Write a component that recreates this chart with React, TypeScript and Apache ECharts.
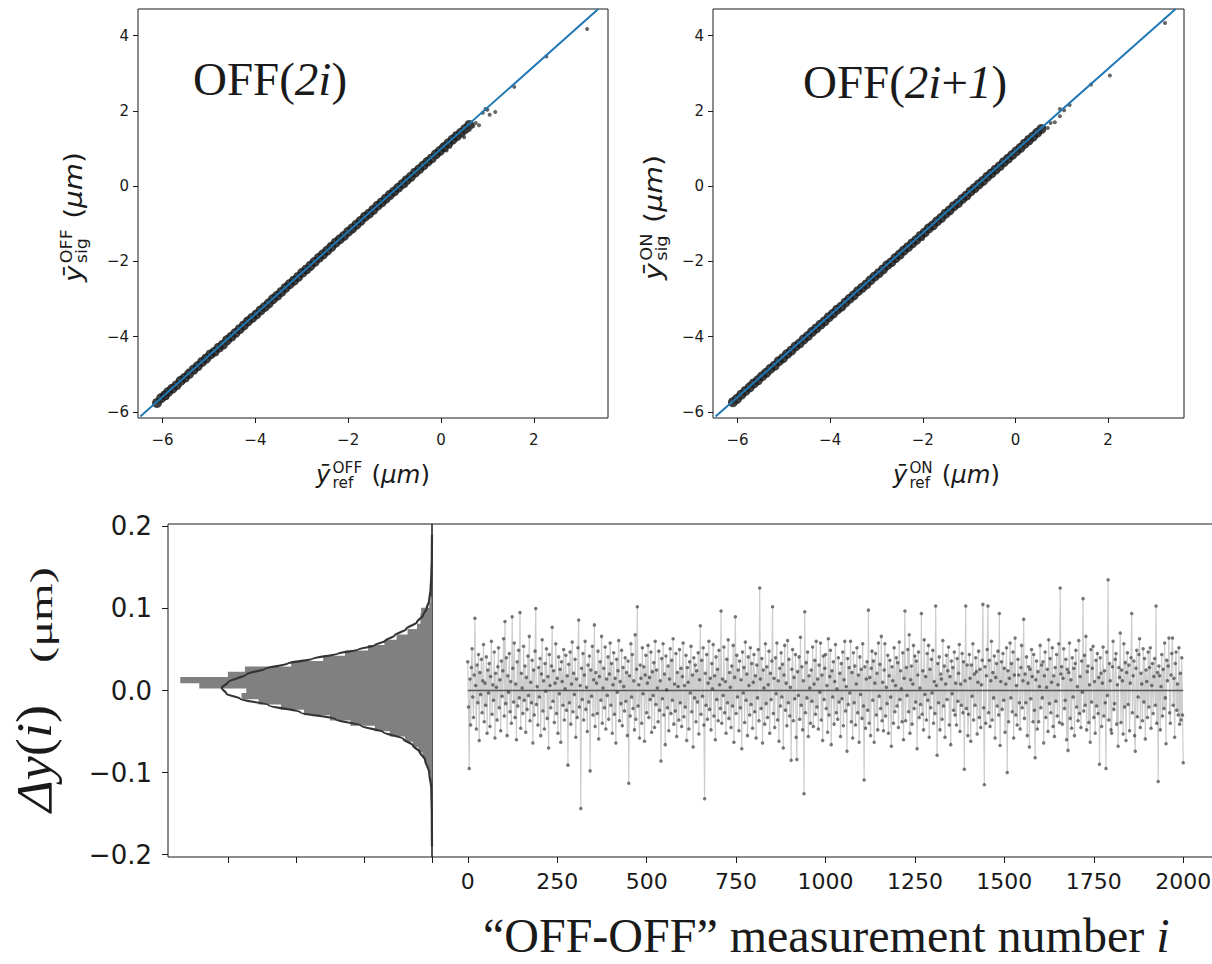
import React, { useEffect, useRef } from "react";
import * as echarts from "echarts";

const INK = "#1a1a1a";
const SANS = "'DejaVu Sans', sans-serif";
const SERIF = "'Liberation Serif', 'Times New Roman', serif";

// ---------------- top panels ----------------
const SCATTER_X_TICKS = [-6, -4, -2, 0, 2];
const SCATTER_Y_TICKS = [-6, -4, -2, 0, 2, 4];

// OFF(2i): dense band of points (x = ref, y = sig)
const EVEN_BAND: [number, number][] = [
  [-6.12, -5.76], [-6.03, -5.63], [-5.95, -5.56], [-5.88, -5.47], [-5.79, -5.38], [-5.70, -5.29],
  [-5.61, -5.17], [-5.52, -5.09], [-5.43, -4.99], [-5.33, -4.87], [-5.24, -4.78], [-5.15, -4.67],
  [-5.06, -4.58], [-4.97, -4.47], [-4.88, -4.40], [-4.79, -4.29], [-4.70, -4.21], [-4.61, -4.09],
  [-4.52, -4.00], [-4.43, -3.90], [-4.34, -3.80], [-4.25, -3.70], [-4.16, -3.59], [-4.07, -3.50],
  [-3.98, -3.41], [-3.89, -3.30], [-3.80, -3.21], [-3.71, -3.11], [-3.62, -3.00], [-3.53, -2.91],
  [-3.44, -2.81], [-3.35, -2.70], [-3.26, -2.60], [-3.17, -2.51], [-3.08, -2.41], [-2.99, -2.30],
  [-2.90, -2.21], [-2.81, -2.11], [-2.72, -2.01], [-2.63, -1.90], [-2.54, -1.81], [-2.45, -1.71],
  [-2.36, -1.61], [-2.27, -1.50], [-2.18, -1.41], [-2.09, -1.32], [-2.00, -1.21], [-1.91, -1.12],
  [-1.82, -1.02], [-1.73, -0.92], [-1.64, -0.81], [-1.55, -0.73], [-1.46, -0.63], [-1.37, -0.52],
  [-1.28, -0.43], [-1.19, -0.33], [-1.10, -0.23], [-1.01, -0.14], [-0.92, -0.04], [-0.83, 0.06],
  [-0.74, 0.16], [-0.65, 0.25], [-0.56, 0.36], [-0.47, 0.45], [-0.38, 0.55], [-0.29, 0.65],
  [-0.20, 0.74], [-0.11, 0.85], [-0.02, 0.94], [0.07, 1.04], [0.16, 1.14], [0.25, 1.24], [0.34, 1.33],
  [0.43, 1.42], [0.52, 1.52], [0.61, 1.63],
];
const EVEN_SPARSE: [number, number][] = [
  [-6.05, -5.72], [-5.9, -5.62], [-5.85, -5.35], [-5.62, -5.28], [-5.45, -4.9], [-5.3, -4.95],
  [-5.1, -4.52], [-4.6, -4.18], [-4.2, -3.55], [-3.7, -3.2], [-3.2, -2.45], [-2.8, -2.2],
  [-2.4, -1.55], [-1.9, -1.2], [-1.5, -0.58], [-1.1, -0.32], [-0.8, 0.17], [-0.75, 0.02],
  [-0.5, 0.35], [-0.3, 0.72], [-0.1, 0.78], [0.0, 1.05], [0.05, 1.1], [0.12, 0.95], [0.2, 1.05],
  [0.3, 1.4], [0.42, 1.36], [0.45, 1.48], [0.5, 1.3], [0.53, 1.46], [0.58, 1.58], [0.62, 1.5],
  [0.7, 1.6], [0.75, 1.68], [0.82, 1.62], [0.9, 1.95], [0.96, 2.05], [1.0, 2.03], [1.05, 1.9],
  [1.17, 1.97], [1.58, 2.64], [2.27, 3.45], [3.15, 4.18],
];
const EVEN_FIT: [number, number][] = [[-6.48, -6.12], [3.39, 4.71]];

// OFF(2i+1)
const ODD_BAND: [number, number][] = [
  [-6.10, -5.74], [-6.01, -5.65], [-5.92, -5.54], [-5.83, -5.44], [-5.74, -5.35], [-5.65, -5.24],
  [-5.56, -5.16], [-5.47, -5.05], [-5.38, -4.96], [-5.29, -4.85], [-5.20, -4.77], [-5.11, -4.65],
  [-5.02, -4.57], [-4.93, -4.46], [-4.84, -4.37], [-4.75, -4.26], [-4.66, -4.18], [-4.57, -4.07],
  [-4.48, -3.98], [-4.39, -3.87], [-4.30, -3.78], [-4.21, -3.68], [-4.12, -3.59], [-4.03, -3.48],
  [-3.94, -3.39], [-3.85, -3.28], [-3.76, -3.20], [-3.67, -3.09], [-3.58, -2.99], [-3.49, -2.90],
  [-3.40, -2.79], [-3.31, -2.70], [-3.22, -2.61], [-3.13, -2.50], [-3.04, -2.40], [-2.95, -2.31],
  [-2.86, -2.21], [-2.77, -2.10], [-2.68, -2.02], [-2.59, -1.91], [-2.50, -1.82], [-2.41, -1.71],
  [-2.32, -1.62], [-2.23, -1.52], [-2.14, -1.43], [-2.05, -1.32], [-1.96, -1.23], [-1.87, -1.12],
  [-1.78, -1.04], [-1.69, -0.93], [-1.60, -0.84], [-1.51, -0.73], [-1.42, -0.64], [-1.33, -0.53],
  [-1.24, -0.45], [-1.15, -0.34], [-1.06, -0.25], [-0.97, -0.14], [-0.88, -0.05], [-0.79, 0.05],
  [-0.70, 0.14], [-0.61, 0.25], [-0.52, 0.34], [-0.43, 0.44], [-0.34, 0.53], [-0.25, 0.64],
  [-0.16, 0.73], [-0.07, 0.83], [0.02, 0.93], [0.11, 1.02], [0.20, 1.13], [0.29, 1.22],
  [0.38, 1.32], [0.47, 1.42], [0.56, 1.52],
];
const ODD_SPARSE: [number, number][] = [
  [-6.05, -5.7], [-5.95, -5.62], [-5.75, -5.25], [-5.55, -5.05], [-5.3, -4.95], [-5.0, -4.45],
  [-4.6, -4.15], [-4.2, -3.6], [-3.7, -3.22], [-3.3, -2.62], [-2.9, -2.3], [-2.5, -1.72],
  [-2.0, -1.4], [-1.6, -0.8], [-1.2, -0.45], [-0.8, -0.02], [-0.6, 0.32], [-0.35, 0.45],
  [-0.2, 0.78], [0.0, 0.85], [0.1, 1.08], [0.18, 1.02], [0.25, 1.3], [0.3, 1.15], [0.38, 1.35],
  [0.47, 1.5], [0.5, 1.38], [0.55, 1.5], [0.62, 1.58], [0.7, 1.55], [0.76, 1.68], [0.85, 1.7],
  [0.96, 1.86], [0.96, 2.05], [1.05, 2.02], [1.17, 2.16], [1.63, 2.7], [2.04, 2.94], [3.23, 4.34],
];
const ODD_FIT: [number, number][] = [[-6.475, -6.12], [3.458, 4.71]];

// ---------------- bottom panels ----------------
const DY_TICKS = [-0.2, -0.1, 0, 0.1, 0.2];
const HIST_COUNT_TICKS = [0, 100, 200, 300];
const HIST_BIN_WIDTH = 0.0065;
const HIST_LOW = [
  -0.1206, -0.1141, -0.1076, -0.1011, -0.0946, -0.0881, -0.0816, -0.0751, -0.0686, -0.0621,
  -0.0556, -0.0491, -0.0426, -0.0361, -0.0296, -0.0231, -0.0166, -0.0101, -0.0036, 0.0029,
  0.0094, 0.0159, 0.0224, 0.0289, 0.0354, 0.0419, 0.0484, 0.0549, 0.0614, 0.0679,
  0.0744, 0.0809, 0.0874, 0.0939, 0.1004, 0.1069,
];
const HIST_COUNT = [
  1, 1, 2, 4, 7, 10, 14, 20, 28, 40,
  62, 84, 120, 150, 188, 222, 255, 280, 273, 342,
  370, 300, 275, 207, 160, 128, 94, 70, 52, 36,
  22, 17, 17, 16, 4, 2,
];
// fitted curve (count, Δy)
const FIT_CURVE_DY = [
  -0.19, -0.15, -0.12, -0.1, -0.085, -0.075, -0.067, -0.059, -0.0507, -0.043, -0.035, -0.0264,
  -0.018, -0.0101, -0.004, 0.003, 0.01, 0.02, 0.0265, 0.033, 0.0387, 0.045, 0.05, 0.0549,
  0.061, 0.067, 0.075, 0.0834, 0.092, 0.0997, 0.11, 0.124, 0.14, 0.16, 0.19,
];
const FIT_CURVE_COUNT = [
  0, 0.3, 1, 4, 10, 18, 28, 42, 72, 104, 142, 194,
  240, 282, 302, 309, 300, 272, 245, 212, 175, 138, 108, 85,
  68, 55, 38, 22, 13, 8, 4, 2, 1, 0.3, 0,
];
const MEAS_TICKS = [0, 250, 500, 750, 1000, 1250, 1500, 1750, 2000];
const MEAS_STEP = 2;
// Δy(i) in nm, for every 2nd measurement i = 0, 2, ..., 2000
const DELTA_Y_NM = [
  35, -20, -95, 14, -42, 28, 51, -8, -33, 19, 88, 6, -47, 31, -15, 44, -61, 22, -5, 38,
  -27, 12, 56, -38, 9, -18, 41, -52, 25, -3, 33, -44, 17, 60, -29, 7, -12, 47, -58, 21,
  4, -36, 29, 52, -21, 13, -49, 36, -7, 24, 63, -31, 84, -16, 40, -55, 18, -2, 45, -26,
  11, -40, 90, 27, -14, 58, -33, 8, -60, 35, -19, 49, -9, 95, -46, 21, 3, -28, 54, -12,
  30, -51, 16, -23, 42, -6, 66, -37, 10, -15, 37, -64, 25, -30, 48, 100, -17, 5, -42, 28,
  -8, 39, -55, 20, 62, -25, 12, -47, 33, -1, 51, -34, 17, -70, 44, 6, -21, 30, 77, -13,
  24, -39, 9, 57, -28, 15, -52, 41, -4, 26, -63, 35, 11, -18, 50, -36, 2, 43, -24, 18,
  -91, 32, -15, 47, -41, 8, 59, -26, 21, -5, 38, -57, 14, -33, 52, 86, -20, 6, -144, 27,
  -11, 45, -36, 19, 60, -23, 4, -50, 31, -14, 42, -98, 25, -7, 54, -30, 13, 80, -44, 22,
  9, -28, 48, -59, 17, 35, -12, 66, -40, 3, 27, -21, 53, -47, 14, -6, 41, -35, 20, 58,
  -18, 33, -52, 7, 46, -29, 15, -64, 38, -2, 24, 61, -37, 11, -16, 49, -43, 28, 5, -25,
  40, -13, 22, -55, 36, -113, 18, -31, 57, -8, 44, -22, 12, -48, 68, -35, 26, 102, -19, 7,
  -58, 31, 15, -40, 52, -4, 29, -62, 19, 43, -27, 9, 55, -33, 16, -11, 47, -51, 23, -6,
  34, -45, 60, -17, 25, 3, -38, 48, -24, 12, -86, 39, -10, 57, -30, 20, -66, 42, 1, -21,
  30, -49, 14, 51, -28, 37, -12, 63, -41, 8, -25, 45, -56, 22, 5, -36, 50, -15, 27, -44,
  17, 58, -32, 6, -20, 43, -61, 28, 10, -47, 35, -3, 54, -26, 19, -69, 40, -9, 31, -38,
  24, -14, 46, -53, 13, 79, -29, 37, -7, 52, -42, -132, 21, -18, 44, -35, 9, 60, -23, 15,
  -48, 33, 2, 56, -31, 18, -60, 41, -11, 26, -37, 49, 7, -22, 97, -40, 14, -6, 53, -27,
  11, -52, 38, -15, 62, -34, 22, 4, -45, 30, -19, 55, -63, 16, 90, -28, 43, -8, 25, -49,
  36, -21, 13, -71, 47, -3, 28, -39, 59, -12, 20, -55, 41, 6, -30, 52, -17, 33, -46, 10,
  44, -26, 18, -58, 31, -9, 50, -37, 125, 14, -22, 39, -64, 25, 3, -41, 57, -16, 29, -33,
  7, 48, -52, 21, -11, 36, 102, -28, 15, -45, 40, -4, 58, -36, 12, -62, 27, -19, 46, -8,
  32, -70, 19, 55, -24, 9, -43, 61, -15, 38, -31, 4, -85, 26, 50, -37, 16, -10, 44, -57,
  -84, 23, -6, 41, -35, 65, -18, 29, -48, 12, -126, 96, -27, 34, -9, 47, -56, 18, 3, -40,
  25, -13, 53, -44, 8, 37, -29, 60, -20, 14, -47, 31, -2, 58, -36, 19, -61, 42, -11, 27,
  44, -22, 6, -51, 63, -30, 17, 49, -66, 24, -8, 35, -41, 11, 56, -27, 2, -35, 40, -14,
  21, -56, 33, -10, 47, -43, 13, 60, -25, 5, -74, 39, -17, 28, -3, 60, -38, 22, -58, 46,
  -15, 30, -42, 8, 52, -27, 19, -63, 41, -5, 26, -34, 57, -19, -109, 29, -46, 14, 35, -24,
  98, -40, 16, -55, 27, 48, -12, 36, -63, 9, 45, -30, 21, -48, 58, -7, 32, -22, 66, -37,
  10, -49, 25, 57, -31, 4, -16, 43, -52, 18, 37, -8, -68, 29, 12, -40, 52, -26, 6, 40,
  -19, 34, -45, 59, -11, 24, 2, -38, 46, -60, 15, 97, -37, 28, -6, 50, -26, 68, -52, 13,
  30, -41, 8, 55, -22, 42, -14, 36, -71, 19, 47, -33, 3, -17, 94, -29, 24, -48, 62, -5,
  17, -36, 45, -12, 55, -57, 26, -21, 38, -3, 49, -40, 11, -28, 103, 6, -79, 33, -15, 41,
  -48, 20, 14, -35, 61, -19, 30, -57, 8, 43, -11, 24, 53, -42, 17, -66, 36, -4, 28, -24,
  47, -30, 9, -42, 39, -13, 21, 56, -50, 8, -18, 45, -27, 35, -96, 12, 103, -22, 31, -55,
  -29, 44, 15, -62, 31, -7, 57, -36, 20, -18, 40, 23, -53, 10, 48, -33, 26, -45, 7, 37,
  105, -21, -115, 29, -40, 18, 50, 103, -27, 37, -44, 12, 60, -36, 22, -9, 42, -58, 16, 33,
  -19, 48, -30, 94, -67, 11, 35, -23, 45, -12, 27, -51, 8, 52, -100, 24, -38, 15, 58, -9,
  33, -26, 47, -58, 19, 64, -30, 6, -42, 38, 19, -15, -47, 28, 55, -21, 12, 87, -34, 20,
  -15, 41, -55, 9, 29, -69, 26, -10, 50, 17, -38, 44, -24, -82, 13, 36, -47, 23, -38, 5,
  55, -21, 31, -9, 35, -64, 18, 47, -33, 4, 26, -50, 62, -16, 39, -27, 10, 52, -44, 18,
  -56, 28, -13, 44, -31, 7, 57, -39, 125, 20, 29, -41, 15, 51, -22, -12, 38, -60, 26, -73,
  22, 58, -34, 13, -46, 40, -8, 27, -55, 33, 49, -20, 5, -37, 61, -28, 17, -45, 36, -2,
  112, -25, 43, -18, 66, -48, 23, 30, -39, 7, -63, 50, -14, 27, 54, -33, 11, -52, 37, -19,
  45, -28, 16, -90, 40, 21, -44, 9, 53, -31, 24, -15, -95, 47, -6, 135, -36, 33, 12, -48,
  -52, 29, 60, -23, -16, 38, 45, -41, 7, -68, 28, 16, 70, -39, 25, 12, -53, 57, -20, 34,
  -61, 22, 46, -17, 31, -49, 9, 40, 94, -27, 18, 36, -55, -74, 27, 49, -32, -8, 44, 63,
  -45, 21, 8, -37, 51, -14, 39, -59, 25, 11, -33, 47, -20, 28, 52, -46, 6, 33, -28, 17,
  39, -18, 103, -40, 22, -111, 30, 18, -48, 5, 44, -31, 26, -22, 58, -9, -65, 37, 12, 30,
  64, -27, -40, 19, 45, 64, -18, 15, -57, 33, 47, -24, 8, -30, 52, -41, 21, -36, 40, -30,
  -88,
];
const MEAN_LINE: [number, number][] = [[0, 0], [2000, 0]];

// ---------------- text helpers ----------------
let measureCtx: CanvasRenderingContext2D | null = null;
function tw(t: string, size: number, fam: string, it?: boolean): number {
  if (!measureCtx) measureCtx = document.createElement("canvas").getContext("2d");
  if (!measureCtx) return t.length * size * 0.6;
  measureCtx.font = `${it ? "italic " : ""}${size}px ${fam}`;
  return measureCtx.measureText(t).width;
}

type Part = {
  t?: string; size?: number; fam?: string; it?: boolean; dy?: number; gap?: number;
  sup?: string; sub?: string; supDy?: number; subDy?: number;
};

function txt(t: string, x: number, baseDy: number, size: number, fam: string, it?: boolean) {
  return {
    type: "text",
    x,
    y: baseDy - 0.34 * size,
    silent: true,
    style: {
      text: t, fontSize: size, fontFamily: fam, fontStyle: it ? "italic" : "normal", fill: INK,
      align: "left", textAlign: "left", verticalAlign: "middle", textVerticalAlign: "middle",
    },
  };
}

function placed(parts: Part[], x: number, y: number, rot = 0, len = 0) {
  let cx = 0;
  const children: any[] = [];
  for (const p of parts) {
    if (p.gap) { cx += p.gap; continue; }
    if (p.sup !== undefined) {
      children.push(txt(p.sup, cx, p.supDy || 0, p.size!, p.fam!));
      children.push(txt(p.sub || "", cx, p.subDy || 0, p.size!, p.fam!));
      cx += Math.max(tw(p.sup, p.size!, p.fam!), tw(p.sub || "", p.size!, p.fam!));
      continue;
    }
    children.push(txt(p.t!, cx, p.dy || 0, p.size!, p.fam!, p.it));
    cx += tw(p.t!, p.size!, p.fam!, p.it);
  }
  const s = len ? len / cx : 1;
  return { type: "group", x, y, rotation: rot, scaleX: s, scaleY: 1, children };
}

function ybar(sup: string, sub: string): Part[] {
  return [
    { t: "ȳ", size: 24, fam: SANS, it: true },
    { gap: 2 },
    { sup, sub, size: 15, fam: SANS, supDy: -10, subDy: 5 },
    { gap: 9 },
    { t: "(", size: 24, fam: SANS },
    { t: "μm", size: 24, fam: SANS, it: true },
    { t: ")", size: 24, fam: SANS },
  ];
}

const minusFmt = (v: number) => (v < 0 ? "\u2212" + Math.abs(v) : String(v));
const dyFmt = (v: number) => (v < 0 ? "\u2212" : "") + Math.abs(v).toFixed(1);
const plainFmt = (v: number) => String(v);

const NO_LINE = { show: false, onZero: false };

function scatterAxes(gridIndex: number, xmin: number, xmax: number) {
  const common = { gridIndex, type: "value", axisLine: NO_LINE, splitLine: { show: false } };
  const x = {
    ...common, min: xmin, max: xmax,
    axisTick: { show: true, length: 5, customValues: SCATTER_X_TICKS, lineStyle: { color: INK, width: 1 } },
    axisLabel: { customValues: SCATTER_X_TICKS, formatter: minusFmt, fontSize: 15, fontFamily: SANS, color: INK, margin: 14 },
  };
  const y = {
    ...common, min: -6.16, max: 4.71,
    axisTick: { show: true, length: 5, customValues: SCATTER_Y_TICKS, lineStyle: { color: INK, width: 1 } },
    axisLabel: { customValues: SCATTER_Y_TICKS, formatter: minusFmt, fontSize: 15, fontFamily: SANS, color: INK, margin: 9 },
  };
  return { x, y };
}

function scatterSeries(idx: number, band: [number, number][], sparse: [number, number][], fit: [number, number][]) {
  return [
    {
      type: "scatter", xAxisIndex: idx, yAxisIndex: idx, data: band, symbolSize: 10,
      itemStyle: { color: "#1c1c1c", opacity: 0.85 }, z: 2,
    },
    {
      type: "scatter", xAxisIndex: idx, yAxisIndex: idx, data: sparse, symbolSize: 4,
      itemStyle: { color: "#333333", opacity: 0.75 }, z: 2,
    },
    {
      type: "line", xAxisIndex: idx, yAxisIndex: idx, data: fit, symbol: "none",
      lineStyle: { color: "#1f77b4", width: 2 }, z: 3,
    },
  ];
}

export default function App() {
  const ref = useRef<HTMLDivElement>(null);

  useEffect(() => {
    if (!ref.current) return;
    const chart = echarts.init(ref.current, null, { renderer: "svg" });

    const gridBase = {
      show: true, borderColor: INK, borderWidth: 1, backgroundColor: "transparent",
      containLabel: false, outerBoundsMode: "none",
    };
    const a0 = scatterAxes(0, -6.53, 3.6);
    const a1 = scatterAxes(1, -6.53, 3.64);

    const histData = HIST_LOW.map((lo, k) => [lo, lo + HIST_BIN_WIDTH, HIST_COUNT[k]]);
    const curveData = FIT_CURVE_DY.map((d, k) => [FIT_CURVE_COUNT[k], d]);
    const tsData = DELTA_Y_NM.map((v, k) => [k * MEAS_STEP, v / 1000]);

    const graphic = [
      placed(ybar("OFF", "ref"), 316, 483, 0, 114),
      placed(ybar("OFF", "sig"), 82, 282, Math.PI / 2, 130),
      placed(ybar("ON", "ref"), 893, 483, 0, 107),
      placed(ybar("ON", "sig"), 662, 280, Math.PI / 2, 125),
      placed([
        { t: "OFF(", size: 47, fam: SERIF },
        { t: "2i", size: 47, fam: SERIF, it: true },
        { t: ")", size: 47, fam: SERIF },
      ], 193, 95),
      placed([
        { t: "OFF(", size: 47, fam: SERIF },
        { t: "2i", size: 47, fam: SERIF, it: true },
        { t: "+", size: 47, fam: SERIF },
        { t: "1", size: 47, fam: SERIF, it: true },
        { t: ")", size: 47, fam: SERIF },
      ], 803, 98),
      placed([
        { t: "Δ", size: 50, fam: SERIF, it: true },
        { t: "y", size: 50, fam: SERIF, it: true },
        { t: "(", size: 50, fam: SERIF },
        { t: "i", size: 50, fam: SERIF, it: true },
        { t: ")", size: 50, fam: SERIF },
      ], 51, 812, Math.PI / 2, 107),
      placed([{ t: "(μm)", size: 32, fam: SERIF }], 52, 663, Math.PI / 2, 96),
      placed([
        { t: "\u201COFF-OFF\u201D measurement number", size: 48, fam: SERIF },
        { gap: 12 },
        { t: "i", size: 48, fam: SERIF, it: true },
      ], 483, 952),
    ];

    const option: any = {
      animation: false,
      backgroundColor: "#ffffff",
      textStyle: { fontFamily: SANS },
      grid: [
        { ...gridBase, left: 138, top: 9, width: 470, height: 409 },
        { ...gridBase, left: 713, top: 9, width: 471, height: 409 },
        { ...gridBase, left: 168, top: 524, width: 264, height: 333 },
        { ...gridBase, left: 432, top: 524, width: 787, height: 333 },
      ],
      xAxis: [
        a0.x,
        a1.x,
        {
          gridIndex: 2, type: "value", min: 0, max: 388, inverse: true,
          axisLine: NO_LINE, splitLine: { show: false },
          axisTick: { show: true, length: 6, customValues: HIST_COUNT_TICKS, lineStyle: { color: INK } },
          axisLabel: { show: false },
        },
        {
          gridIndex: 3, type: "value", min: -100, max: 2100,
          axisLine: NO_LINE, splitLine: { show: false },
          axisTick: { show: true, length: 6, customValues: MEAS_TICKS, lineStyle: { color: INK } },
          axisLabel: { customValues: MEAS_TICKS, formatter: plainFmt, fontSize: 22, fontFamily: SANS, color: INK, margin: 13 },
        },
      ],
      yAxis: [
        a0.y,
        a1.y,
        {
          gridIndex: 2, type: "value", min: -0.203, max: 0.203,
          axisLine: NO_LINE, splitLine: { show: false },
          axisTick: { show: true, length: 6, customValues: DY_TICKS, lineStyle: { color: INK } },
          axisLabel: { customValues: DY_TICKS, formatter: dyFmt, fontSize: 26, fontFamily: SANS, color: INK, margin: 16 },
        },
        { gridIndex: 3, type: "value", min: -0.203, max: 0.203, show: false, axisLine: NO_LINE, splitLine: { show: false } },
      ],
      series: [
        ...scatterSeries(0, EVEN_BAND, EVEN_SPARSE, EVEN_FIT),
        ...scatterSeries(1, ODD_BAND, ODD_SPARSE, ODD_FIT),
        {
          type: "custom", xAxisIndex: 2, yAxisIndex: 2, data: histData,
          encode: { x: 2, y: [0, 1] },
          renderItem: (params: any, api: any) => {
            const p0 = api.coord([0, api.value(0)]);
            const p1 = api.coord([api.value(2), api.value(1)]);
            const top = Math.min(p0[1], p1[1]);
            return {
              type: "rect",
              shape: {
                x: Math.min(p0[0], p1[0]), y: top - 0.4,
                width: Math.abs(p1[0] - p0[0]), height: Math.abs(p1[1] - p0[1]) + 0.8,
              },
              style: { fill: "#808080" },
            };
          },
          z: 2,
        },
        {
          type: "line", xAxisIndex: 2, yAxisIndex: 2, data: curveData, symbol: "none",
          smooth: 0.3, smoothMonotone: "y",
          lineStyle: { color: "#333333", width: 2.2 }, z: 3,
        },
        {
          type: "line", xAxisIndex: 3, yAxisIndex: 3, data: tsData, symbol: "none",
          lineStyle: { color: "#cdcdcd", width: 1.2 }, z: 2,
        },
        {
          type: "line", xAxisIndex: 3, yAxisIndex: 3, data: MEAN_LINE, symbol: "none",
          lineStyle: { color: "#555555", width: 1.6 }, z: 3,
        },
        {
          type: "scatter", xAxisIndex: 3, yAxisIndex: 3, data: tsData, symbolSize: 3.5,
          itemStyle: { color: "#333333", opacity: 0.65 }, z: 4,
        },
      ],
      graphic,
    };

    chart.setOption(option);
    return () => chart.dispose();
  }, []);

  return (
    <div
      ref={ref}
      style={{ position: "absolute", left: 0, top: 0, width: 1212, height: 964, background: "#fff" }}
    />
  );
}
